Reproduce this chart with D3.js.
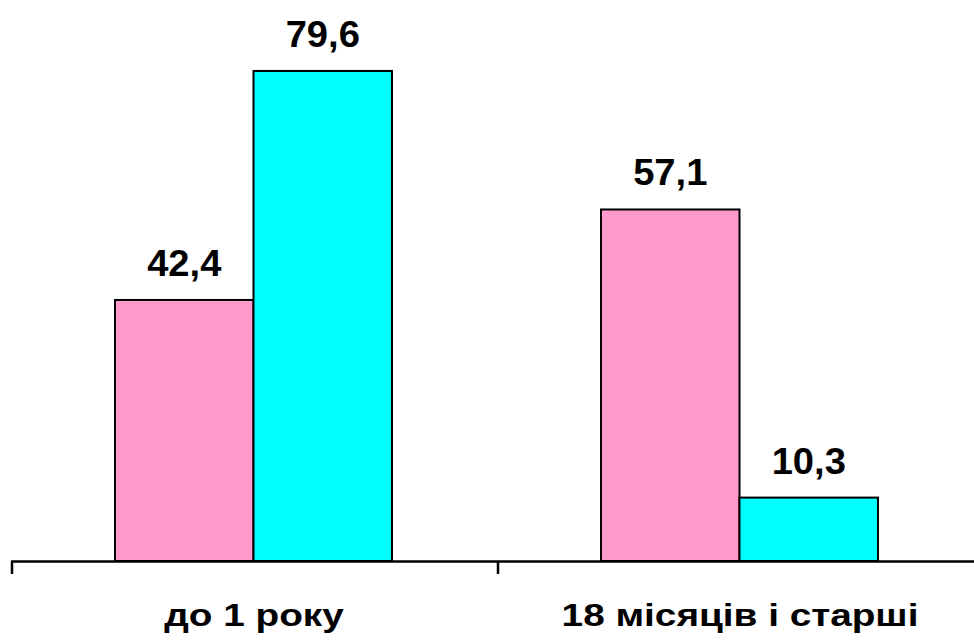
<!DOCTYPE html>
<html>
<head>
<meta charset="utf-8">
<script src="https://cdn.jsdelivr.net/npm/d3@7/dist/d3.min.js"></script>
<style>
  html, body { margin: 0; padding: 0; background: #fff; }
  svg { display: block; }
  text { font-family: "Liberation Sans", Arial, sans-serif; font-weight: bold; fill: #000; }
</style>
</head>
<body>
<svg id="chart" width="974" height="640"></svg>
<script>
// Age groups along the axis
const categories = ["до 1 року", "18 місяців і старші"];
// Two series per group (pink, cyan)
const seriesA = [42.4, 57.1];
const seriesB = [79.6, 10.3];
const seriesColors = ["#FF99CC", "#00FFFF"];

const svg = d3.select("#chart");
const baseY = 561;

const x0 = d3.scaleBand().domain(categories).range([12, 984]).padding(0);
const x1 = d3.scaleBand().domain([0, 1]).range([103, 380]).padding(0);
const y = d3.scaleLinear().domain([0, 80]).range([baseY, 68.5]);

const rows = categories.map((c, i) => ({ cat: c, values: [seriesA[i], seriesB[i]] }));

const groups = svg.selectAll("g.grp").data(rows).join("g")
  .attr("class", "grp")
  .attr("transform", d => `translate(${x0(d.cat)},0)`);

groups.selectAll("rect").data(d => d.values.map((v, k) => ({ v, k }))).join("rect")
  .attr("x", d => x1(d.k))
  .attr("y", d => y(d.v))
  .attr("width", x1.bandwidth())
  .attr("height", d => baseY - y(d.v))
  .attr("fill", d => seriesColors[d.k])
  .attr("stroke", "#000")
  .attr("stroke-width", 2);

// Value labels above each bar (wide bold face)
groups.selectAll("text.val").data(d => d.values.map((v, k) => ({ v, k }))).join("text")
  .attr("class", "val")
  .attr("transform", d => `translate(${x1(d.k) + x1.bandwidth() / 2},${y(d.v) - 24}) scale(1.06,1)`)
  .attr("text-anchor", "middle")
  .attr("font-size", 36)
  .text(d => d3.format(".1f")(d.v).replace(".", ","));

// Category axis along the bottom
const gAxis = svg.append("g").attr("transform", `translate(0,${baseY})`);
gAxis.append("line")
  .attr("x1", 11).attr("x2", 974).attr("y1", 0.5).attr("y2", 0.5)
  .attr("stroke", "#000").attr("stroke-width", 2.5);
const tickPos = categories.map(c => x0(c)).concat([x0.range()[1]]);
gAxis.selectAll("line.tick").data(tickPos).join("line")
  .attr("class", "tick")
  .attr("x1", d => d).attr("x2", d => d)
  .attr("y1", 0).attr("y2", 13)
  .attr("stroke", "#000").attr("stroke-width", 2.5);

svg.selectAll("text.cat").data(categories).join("text")
  .attr("class", "cat")
  .attr("transform", d => `translate(${x0(d) + x0.bandwidth() / 2 - 1},626) scale(1.27,1)`)
  .attr("text-anchor", "middle")
  .attr("font-size", 30.5)
  .text(d => d);
</script>
</body>
</html>
